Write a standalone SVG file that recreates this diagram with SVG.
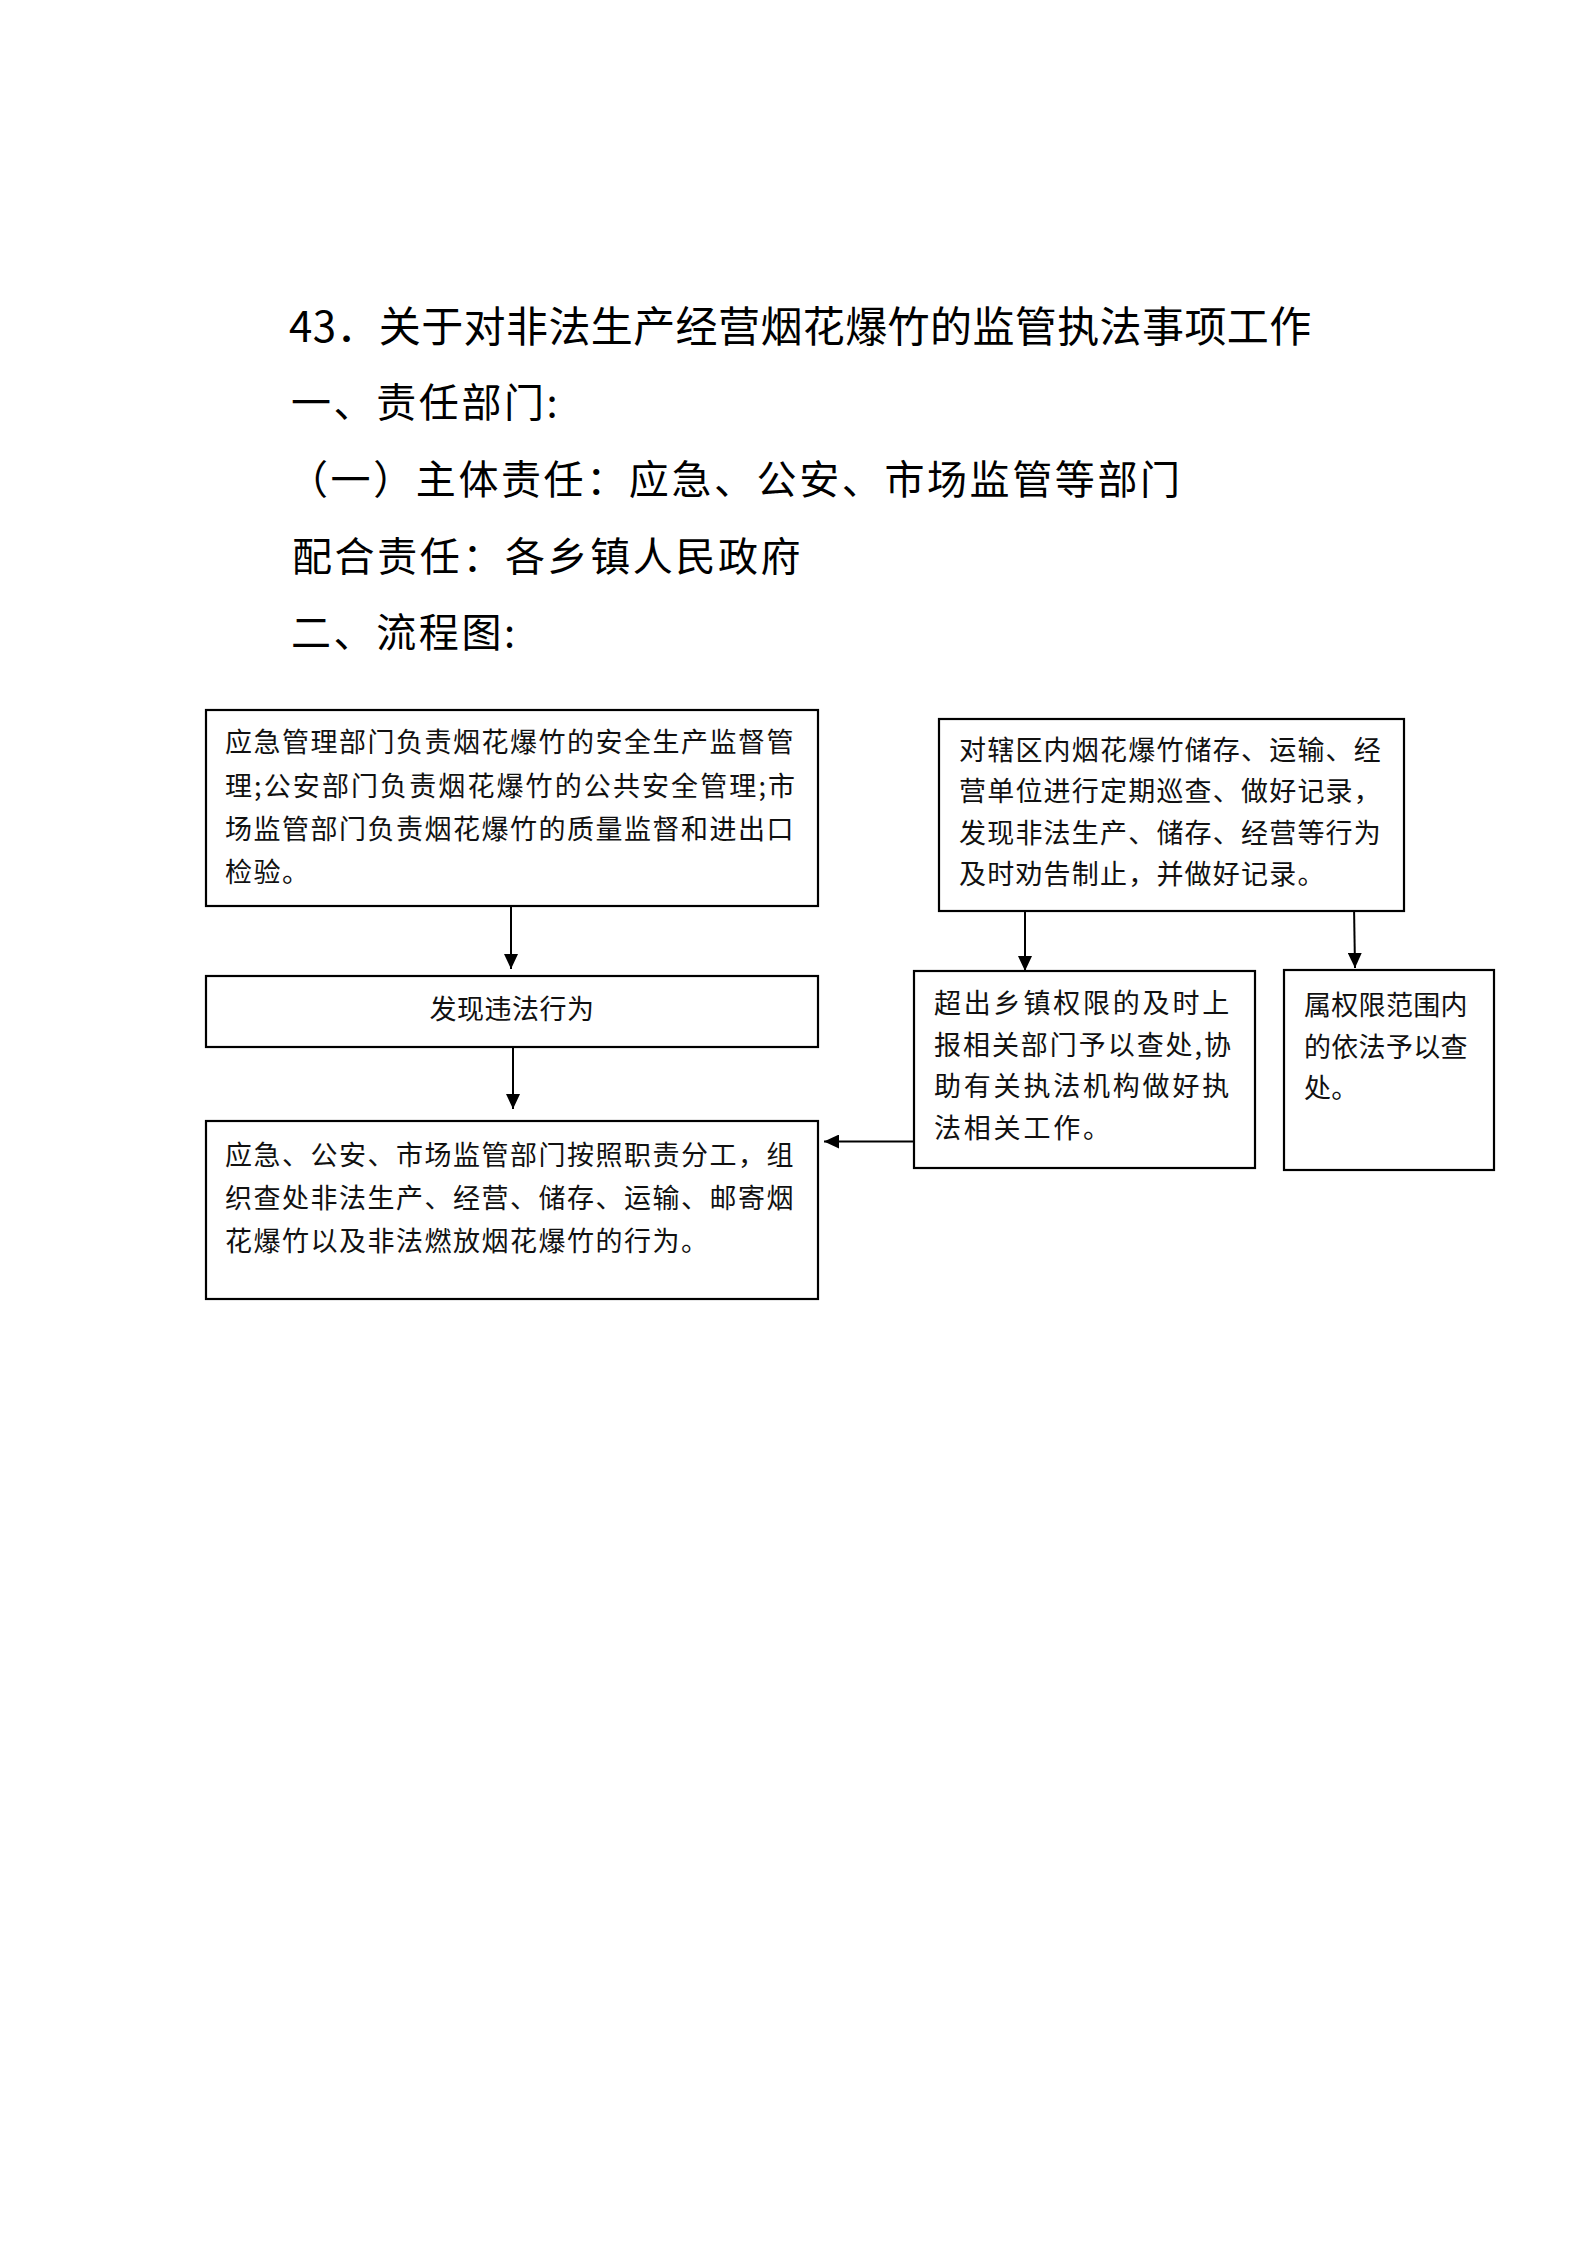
<svg xmlns="http://www.w3.org/2000/svg" width="1587" height="2245" viewBox="0 0 1587 2245">
<style>
.bg{fill:#fff}
.box{fill:#fff;stroke:#000;stroke-width:2.2}
.title{font-family:"Noto Sans CJK SC","Liberation Sans",sans-serif;font-size:42px;letter-spacing:0.4px;fill:#000}
.head{font-family:"Noto Sans CJK SC","Liberation Sans",sans-serif;font-size:40px;letter-spacing:2.6px;fill:#000}
.t{font-family:"Noto Sans CJK SC","Liberation Sans",sans-serif;font-size:27px;fill:#111}
.conn{stroke:#000;stroke-width:2;fill:none}
</style>
<defs>
<marker id="arr" markerUnits="userSpaceOnUse" markerWidth="16" markerHeight="14" refX="15" refY="7" orient="auto">
<path d="M0,0 L15,7 L0,14 Z" fill="#000"/>
</marker>
</defs>
<rect class="bg" x="0" y="0" width="1587" height="2245"/>
<g id="headings">
<text class="title" x="289" y="342">43．关于对非法生产经营烟花爆竹的监管执法事项工作</text>
<text class="head" x="291" y="417">一、责任部门:</text>
<text class="head" x="288" y="494">（一）主体责任：应急、公安、市场监管等部门</text>
<text class="head" x="292" y="571">配合责任：各乡镇人民政府</text>
<text class="head" x="291" y="647">二、流程图:</text>
</g>
<g id="connectors">
<line class="conn" x1="511" y1="907" x2="511" y2="969" marker-end="url(#arr)"/>
<line class="conn" x1="513" y1="1048" x2="513" y2="1109" marker-end="url(#arr)"/>
<line class="conn" x1="914" y1="1141.5" x2="824" y2="1141.5" marker-end="url(#arr)"/>
<line class="conn" x1="1025" y1="912" x2="1025" y2="971" marker-end="url(#arr)"/>
<line class="conn" x1="1354" y1="906" x2="1355" y2="968" marker-end="url(#arr)"/>
</g>
<g id="node-duty">
<rect class="box" x="206" y="710" width="612" height="196"/>
<text class="t" x="225" y="752" letter-spacing="1.5">应急管理部门负责烟花爆竹的安全生产监督管</text>
<text class="t" x="225" y="796" textLength="570" lengthAdjust="spacing">理;公安部门负责烟花爆竹的公共安全管理;市</text>
<text class="t" x="225" y="839" letter-spacing="1.5">场监管部门负责烟花爆竹的质量监督和进出口</text>
<text class="t" x="225" y="882" letter-spacing="1.5">检验。</text>
</g>
<g id="node-discover">
<rect class="box" x="206" y="976" width="612" height="71"/>
<text class="t" x="512" y="1019" text-anchor="middle" letter-spacing="0.5">发现违法行为</text>
</g>
<g id="node-handle">
<rect class="box" x="206" y="1121" width="612" height="178"/>
<text class="t" x="225" y="1165" letter-spacing="1.5">应急、公安、市场监管部门按照职责分工，组</text>
<text class="t" x="225" y="1208" letter-spacing="1.5">织查处非法生产、经营、储存、运输、邮寄烟</text>
<text class="t" x="225" y="1251" letter-spacing="1.5">花爆竹以及非法燃放烟花爆竹的行为。</text>
</g>
<g id="node-patrol">
<rect class="box" x="939" y="719" width="465" height="192"/>
<text class="t" x="959" y="760" letter-spacing="1.2">对辖区内烟花爆竹储存、运输、经</text>
<text class="t" x="959" y="801" letter-spacing="1.2">营单位进行定期巡查、做好记录，</text>
<text class="t" x="959" y="843" letter-spacing="1.2">发现非法生产、储存、经营等行为</text>
<text class="t" x="959" y="884" letter-spacing="1.2">及时劝告制止，并做好记录。</text>
</g>
<g id="node-report">
<rect class="box" x="914" y="971" width="341" height="197"/>
<text class="t" x="934" y="1013" letter-spacing="2.8">超出乡镇权限的及时上</text>
<text class="t" x="934" y="1055" textLength="297" lengthAdjust="spacing">报相关部门予以查处,协</text>
<text class="t" x="934" y="1096" letter-spacing="2.8">助有关执法机构做好执</text>
<text class="t" x="934" y="1138" letter-spacing="2.8">法相关工作。</text>
</g>
<g id="node-within">
<rect class="box" x="1284" y="970" width="210" height="200"/>
<text class="t" x="1304" y="1015" letter-spacing="0.3">属权限范围内</text>
<text class="t" x="1304" y="1057" letter-spacing="0.3">的依法予以查</text>
<text class="t" x="1304" y="1098" letter-spacing="0.3">处。</text>
</g>
</svg>
